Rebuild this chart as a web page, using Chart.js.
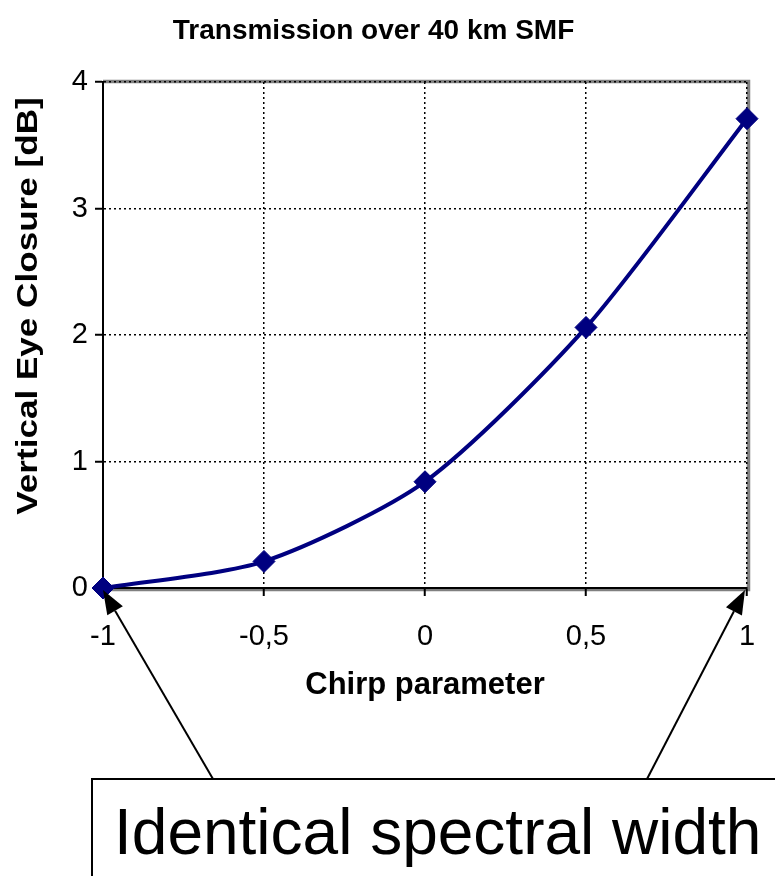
<!DOCTYPE html>
<html>
<head>
<meta charset="utf-8">
<script src="https://cdn.jsdelivr.net/npm/chart.js@4.4.0/dist/chart.umd.min.js"></script>
<style>
    body { margin: 0; background: #fff; }
    #wrap { width: 775px; height: 876px; }
</style>
</head>
<body>
<div id="wrap"><canvas id="chart" width="775" height="876"></canvas></div>
<script>
// data
var chirp = [-1, -0.5, 0, 0.5, 1];
var eyeClosure = [0, 0.21, 0.84, 2.06, 3.71];
var xTicks = [-1, -0.5, 0, 0.5, 1];
var yTicks = [0, 1, 2, 3, 4];

var chartTitle = "Transmission over 40 km SMF";
var xTitle = "Chirp parameter";
var yTitle = "Vertical Eye Closure [dB]";
var boxText = "Identical spectral width";

var FONT = "'Liberation Sans', Arial, sans-serif";

function comma(v) {
    return String(v).replace(".", ",");
}

var points = [];
for (var i = 0; i < chirp.length; i++) {
    points.push({x: chirp[i], y: eyeClosure[i]});
}

// white background + grey plot frame
var frame = {
    id: "frame",
    beforeDraw: function(chart) {
        var ctx = chart.ctx, a = chart.chartArea;
        ctx.save();
        ctx.fillStyle = "#fff";
        ctx.fillRect(0, 0, chart.width, chart.height);
        ctx.strokeStyle = "#808080";
        ctx.lineWidth = 3.5;
        ctx.beginPath();
        ctx.moveTo(a.left, a.top - 0.5);
        ctx.lineTo(a.right + 1.5, a.top - 0.5);
        ctx.lineTo(a.right + 1.5, a.bottom + 1.5);
        ctx.lineTo(a.left, a.bottom + 1.5);
        ctx.stroke();
        ctx.restore();
    }
};

function arrow(ctx, x1, y1, x2, y2) {
    var ang = Math.atan2(y2 - y1, x2 - x1);
    var len = 24, half = 9;
    var bx = x2 - len * Math.cos(ang), by = y2 - len * Math.sin(ang);
    ctx.beginPath();
    ctx.moveTo(x1, y1);
    ctx.lineTo(bx, by);
    ctx.stroke();
    ctx.beginPath();
    ctx.moveTo(x2, y2);
    ctx.lineTo(bx + half * Math.sin(ang), by - half * Math.cos(ang));
    ctx.lineTo(bx - half * Math.sin(ang), by + half * Math.cos(ang));
    ctx.closePath();
    ctx.fill();
}

// y axis title and the text box with the two arrows
var notes = {
    id: "notes",
    afterDraw: function(chart) {
        var ctx = chart.ctx;
        var xs = chart.scales.x, ys = chart.scales.y;
        ctx.save();
        ctx.fillStyle = "#000";
        ctx.strokeStyle = "#000";

        // the original label is stretched along its length
        ctx.save();
        ctx.translate(37, 306);
        ctx.rotate(-Math.PI / 2);
        ctx.scale(1.21, 1);
        ctx.font = "bold 29px " + FONT;
        ctx.textAlign = "center";
        ctx.textBaseline = "alphabetic";
        ctx.fillText(yTitle, 0, 0);
        ctx.restore();

        ctx.lineWidth = 2;
        ctx.strokeRect(92, 779, 700, 200);

        ctx.font = "64px " + FONT;
        ctx.textAlign = "left";
        ctx.textBaseline = "alphabetic";
        ctx.fillText(boxText, 114, 854);

        var y0 = ys.getPixelForValue(0) + 2;
        arrow(ctx, 213, 779, xs.getPixelForValue(-1), y0);
        arrow(ctx, 647, 779, xs.getPixelForValue(1) - 2, y0);
        ctx.restore();
    }
};

new Chart(document.getElementById("chart"), {
    type: "line",
    data: {
        datasets: [{
            data: points,
            borderColor: "#000080",
            backgroundColor: "#000080",
            borderWidth: 4,
            tension: 0.25,
            pointStyle: "rectRot",
            pointRadius: 11,
            pointHoverRadius: 11,
            pointBorderWidth: 1,
            clip: false
        }]
    },
    options: {
        responsive: false,
        animation: false,
        events: [],
        layout: {padding: {left: 0, right: 28, top: 0, bottom: 0}},
        plugins: {
            legend: {display: false},
            tooltip: {enabled: false},
            title: {
                display: true,
                text: chartTitle,
                color: "#000",
                font: {family: FONT, size: 28, weight: "bold"},
                padding: {top: 14, bottom: 34.4}
            }
        },
        scales: {
            x: {
                type: "linear",
                min: -1,
                max: 1,
                afterBuildTicks: function(s) {
                    s.ticks = xTicks.map(function(v) { return {value: v}; });
                },
                afterFit: function(s) {
                    s.height = 288;
                    s.paddingLeft = 0;
                    s.paddingRight = 0;
                },
                ticks: {
                    color: "#000",
                    font: {family: FONT, size: 29},
                    padding: 24,
                    maxRotation: 0,
                    callback: function(v) { return comma(v); }
                },
                grid: {
                    color: "#000",
                    lineWidth: 1.5,
                    tickLength: 8,
                    tickColor: "#000",
                    tickWidth: 2,
                    tickBorderDash: []
                },
                border: {display: true, color: "#000", width: 2, dash: [2, 3]},
                title: {
                    display: true,
                    text: xTitle,
                    color: "#000",
                    font: {family: FONT, size: 31, weight: "bold"},
                    padding: {top: 0, bottom: 172}
                }
            },
            y: {
                min: 0,
                max: 4,
                afterBuildTicks: function(s) {
                    s.ticks = yTicks.map(function(v) { return {value: v}; });
                },
                afterFit: function(s) { s.width = 103; },
                ticks: {
                    color: "#000",
                    font: {family: FONT, size: 29},
                    padding: 7,
                    callback: function(v) { return comma(v); }
                },
                grid: {
                    color: "#000",
                    lineWidth: 1.5,
                    tickLength: 8,
                    tickColor: "#000",
                    tickWidth: 2,
                    tickBorderDash: []
                },
                border: {display: true, color: "#000", width: 2, dash: [2, 3]}
            }
        }
    },
    plugins: [frame, notes]
});
</script>
</body>
</html>
